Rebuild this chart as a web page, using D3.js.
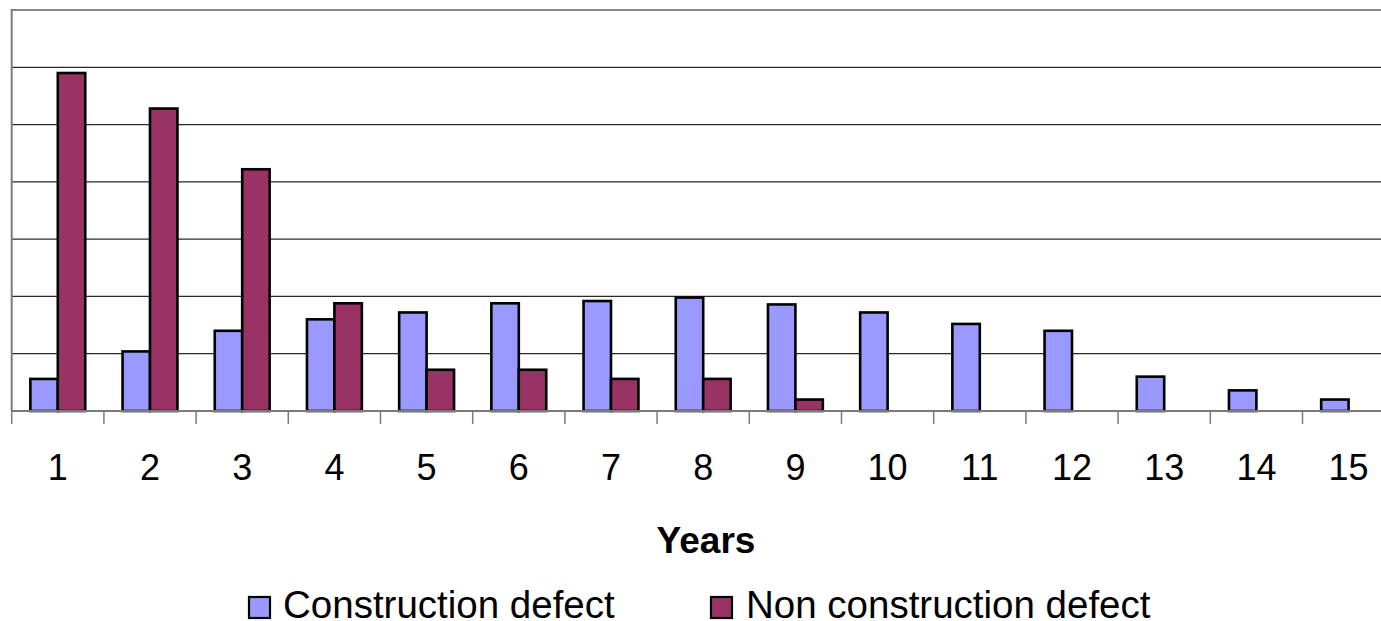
<!DOCTYPE html>
<html>
<head>
<meta charset="utf-8">
<script src="https://cdn.jsdelivr.net/npm/d3@7"></script>
<style>
  html, body { margin: 0; padding: 0; background: #fff; }
  svg { display: block; font-family: "Liberation Sans", Arial, sans-serif; }
</style>
</head>
<body>
<svg id="chart" width="1381" height="621"></svg>
<script>
// Share of defects (%) by year after completion
const years = ["1","2","3","4","5","6","7","8","9","10","11","12","13","14","15"];
const seriesNames = ["Construction defect", "Non construction defect"];
const constructionDefect    = [2.8, 5.2, 7.0, 8.0, 8.6, 9.4, 9.6, 9.9, 9.3, 8.6, 7.6, 7.0, 3.0, 1.8, 1.0];
const nonConstructionDefect = [29.5, 26.4, 21.1, 9.4, 3.6, 3.6, 2.8, 2.8, 1.0, 0, 0, 0, 0, 0, 0];
const yTicks = [0, 5, 10, 15, 20, 25, 30, 35];
const colors = ["#9999FF", "#993366"];

const svg = d3.select("#chart");
const plot = { left: 11.7, right: 1394.7, top: 10, bottom: 411 };

const x = d3.scaleBand().domain(years).range([plot.left, plot.right]).paddingInner(0).paddingOuter(0);
const xSub = d3.scaleBand().domain(seriesNames).range([0, x.bandwidth()]).paddingInner(0).paddingOuter(0.68);
const y = d3.scaleLinear().domain([0, 35]).range([plot.bottom, plot.top]);

// horizontal gridlines
svg.append("g").selectAll("line")
  .data(yTicks.filter(t => t > 0 && t < 35))
  .join("line")
  .attr("x1", plot.left).attr("x2", plot.right)
  .attr("y1", d => y(d)).attr("y2", d => y(d))
  .attr("stroke", "#2a2a2a").attr("stroke-width", 1.2);

// top frame line
svg.append("line")
  .attr("x1", plot.left).attr("x2", plot.right)
  .attr("y1", y(35)).attr("y2", y(35))
  .attr("stroke", "#858585").attr("stroke-width", 2.2);

// left axis line
svg.append("line")
  .attr("x1", plot.left).attr("x2", plot.left)
  .attr("y1", y(35) - 1).attr("y2", plot.bottom)
  .attr("stroke", "#7a7a7a").attr("stroke-width", 2);

// bars
const rows = years.map((yr, i) => ({ yr, vals: [constructionDefect[i], nonConstructionDefect[i]] }));
const groups = svg.append("g").selectAll("g")
  .data(rows).join("g")
  .attr("transform", d => `translate(${x(d.yr)},0)`);
groups.selectAll("rect")
  .data(d => d.vals.map((v, k) => ({ v, k })).filter(e => e.v > 0))
  .join("rect")
  .attr("x", e => xSub(seriesNames[e.k]))
  .attr("width", xSub.bandwidth())
  .attr("y", e => y(e.v))
  .attr("height", e => y(0) - y(e.v))
  .attr("fill", e => colors[e.k])
  .attr("stroke", "#000").attr("stroke-width", 2.6);

// x axis: line, boundary ticks, labels
const xAxis = d3.axisBottom(x).tickSize(0).tickPadding(0);
const gx = svg.append("g").attr("transform", `translate(0,${plot.bottom})`).call(xAxis);
gx.select(".domain").remove();
gx.selectAll("text")
  .attr("dy", null).attr("y", 69)
  .attr("font-size", 36).attr("fill", "#000")
  .attr("font-family", "Liberation Sans, Arial, sans-serif");

svg.append("line")
  .attr("x1", plot.left).attr("x2", plot.right)
  .attr("y1", plot.bottom).attr("y2", plot.bottom)
  .attr("stroke", "#7a7a7a").attr("stroke-width", 2);

const boundaries = years.map(v => x(v)).concat([plot.right]);
svg.append("g").selectAll("line")
  .data(boundaries).join("line")
  .attr("x1", d => d).attr("x2", d => d)
  .attr("y1", plot.bottom).attr("y2", plot.bottom + 13)
  .attr("stroke", "#7a7a7a").attr("stroke-width", 1.5);

// axis title
svg.append("text")
  .attr("x", 706).attr("y", 553)
  .attr("text-anchor", "middle")
  .attr("font-size", 37).attr("font-weight", "bold")
  .text("Years");

// legend
const legendItems = [
  { name: seriesNames[0], color: colors[0], sx: 249, tx: 283 },
  { name: seriesNames[1], color: colors[1], sx: 711, tx: 746 }
];
const lg = svg.append("g").selectAll("g").data(legendItems).join("g");
lg.append("rect")
  .attr("x", d => d.sx).attr("y", 597)
  .attr("width", 21).attr("height", 21)
  .attr("fill", d => d.color)
  .attr("stroke", "#000").attr("stroke-width", 2.2);
lg.append("text")
  .attr("x", d => d.tx).attr("y", 618)
  .attr("font-size", 38.5)
  .text(d => d.name);
</script>
</body>
</html>
